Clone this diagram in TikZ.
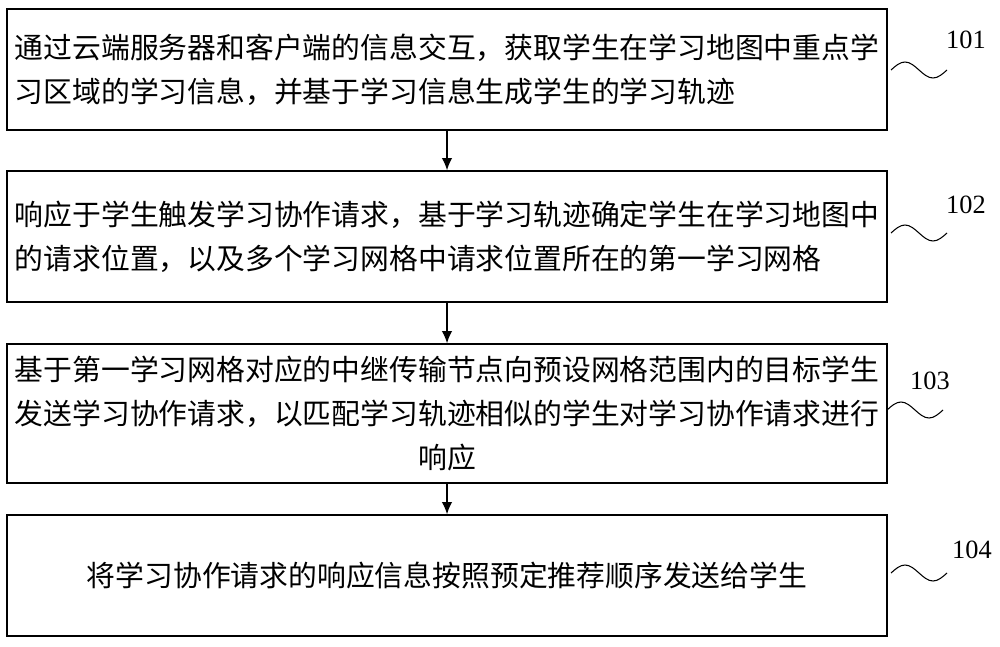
\documentclass[tikz,border=0pt]{standalone}
\usepackage{fontspec}
\newfontfamily\cjk{Noto Sans CJK SC}
\setmainfont{Liberation Serif}
\usetikzlibrary{positioning,arrows.meta}
\tikzset{
  stepbox/.style={draw, line width=0.8pt, minimum width=17.6cm, inner sep=0pt, font=\cjk\fontsize{16.4}{25}\selectfont},
  flow/.style={-{Latex[length=7pt,width=6pt]}, line width=0.8pt},
  tag/.style={font=\fontsize{15}{18}\selectfont}
}
\begin{document}
\begin{tikzpicture}[x=0.02cm,y=-0.02cm]
\useasboundingbox (0,0) rectangle (1000,646);
\node[stepbox, minimum height=2.42cm, align=left] (s1) at (447,69.5) {通过云端服务器和客户端的信息交互，获取学生在学习地图中重点学\\习区域的学习信息，并基于学习信息生成学生的学习轨迹};
\node[stepbox, minimum height=2.62cm, align=left] (s2) at (447,236.5) {响应于学生触发学习协作请求，基于学习轨迹确定学生在学习地图中\\的请求位置，以及多个学习网格中请求位置所在的第一学习网格};
\node[stepbox, minimum height=2.78cm, align=center] (s3) at (447,413.5) {基于第一学习网格对应的中继传输节点向预设网格范围内的目标学生\\发送学习协作请求，以匹配学习轨迹相似的学生对学习协作请求进行\\响应};
\node[stepbox, minimum height=2.42cm] (s4) at (447,575.5) {将学习协作请求的响应信息按照预定推荐顺序发送给学生};
\draw[flow] (s1) -- (s2);
\draw[flow] (s2) -- (s3);
\draw[flow] (s3) -- (s4);
% step tags
\node[tag] (t1) at (966,40) {101};
\node[tag] (t2) at (966,205) {102};
\node[tag] (t3) at (930,381) {103};
\node[tag] (t4) at (972,550) {104};
\foreach \y/\x in {70/891, 233/891, 410/887, 573/891}
  \draw[line width=0.6pt] (\x,\y) sin (\x+14,\y-8) cos (\x+28,\y) sin (\x+42,\y+8) cos (\x+56,\y);
\end{tikzpicture}
\end{document}
